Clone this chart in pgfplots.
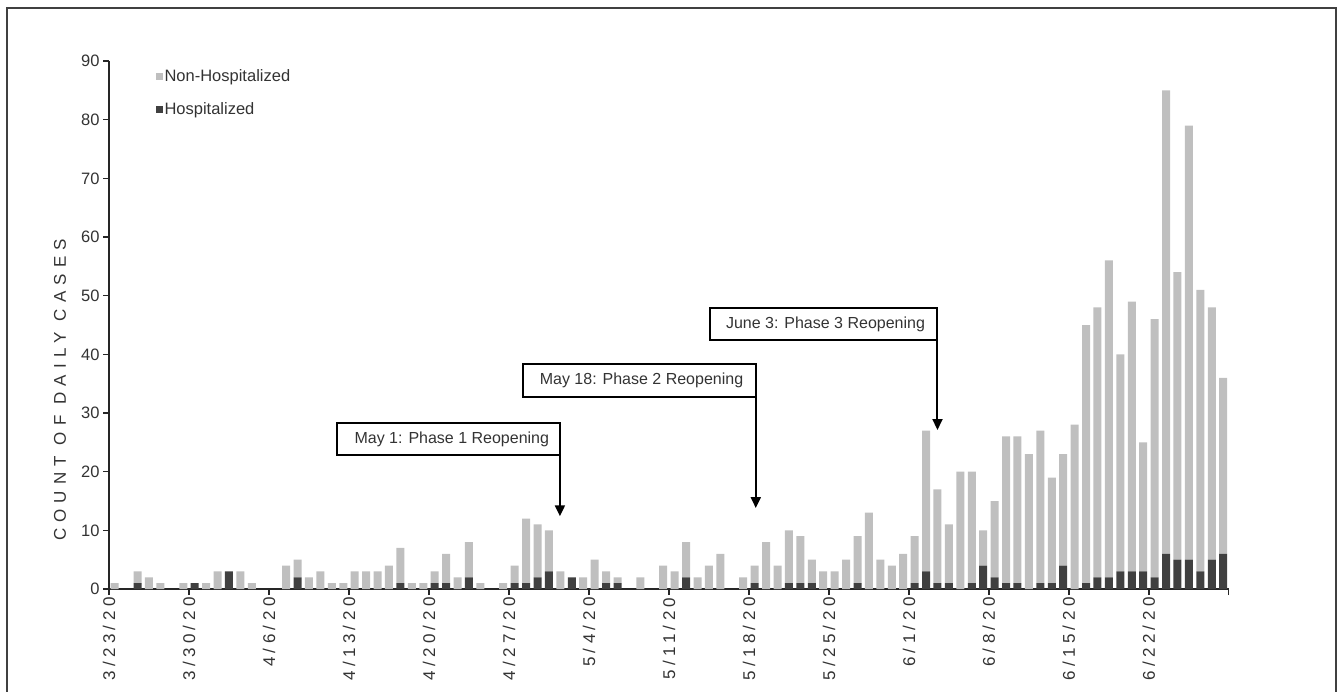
\documentclass[border=0pt]{standalone}
\usepackage{fontspec}
\setmainfont{Liberation Sans}
\newfontfamily\tickfont[LetterSpace=26]{Liberation Sans}
\newfontfamily\ylabfont[LetterSpace=36]{Liberation Sans}
\newfontfamily\boxfont[LetterSpace=0]{Liberation Sans}
\usepackage{pgfplots}
\usepackage{pgfplotstable}
\pgfplotsset{compat=1.18}
\usetikzlibrary{arrows.meta}
\newcommand\fs{\fontsize{16pt}{19pt}\selectfont}
\newcommand\fsl{\fontsize{16.5pt}{19pt}\selectfont}
\newcommand\fsb{\fontsize{17pt}{20pt}\selectfont}
\definecolor{lightbar}{HTML}{BFBFBF}
\definecolor{darkbar}{HTML}{404040}

\pgfplotstableread{
x hosp nonhosp
0 0 1
1 0 0
2 1 2
3 0 2
4 0 1
5 0 0
6 0 1
7 1 0
8 0 1
9 0 3
10 3 0
11 0 3
12 0 1
13 0 0
14 0 0
15 0 4
16 2 3
17 0 2
18 0 3
19 0 1
20 0 1
21 0 3
22 0 3
23 0 3
24 0 4
25 1 6
26 0 1
27 0 1
28 1 2
29 1 5
30 0 2
31 2 6
32 0 1
33 0 0
34 0 1
35 1 3
36 1 11
37 2 9
38 3 7
39 0 3
40 2 0
41 0 2
42 0 5
43 1 2
44 1 1
45 0 0
46 0 2
47 0 0
48 0 4
49 0 3
50 2 6
51 0 2
52 0 4
53 0 6
54 0 0
55 0 2
56 1 3
57 0 8
58 0 4
59 1 9
60 1 8
61 1 4
62 0 3
63 0 3
64 0 5
65 1 8
66 0 13
67 0 5
68 0 4
69 0 6
70 1 8
71 3 24
72 1 16
73 1 10
74 0 20
75 1 19
76 4 6
77 2 13
78 1 25
79 1 25
80 0 23
81 1 26
82 1 18
83 4 19
84 0 28
85 1 44
86 2 46
87 2 54
88 3 37
89 3 46
90 3 22
91 2 44
92 6 79
93 5 49
94 5 74
95 3 48
96 5 43
97 6 30
}\datatable

\begin{document}
\begin{tikzpicture}
\useasboundingbox (0,0) rectangle (1343pt,691pt);
\draw[line width=1.5pt, darkbar] (7pt,683pt) rectangle (1336pt,-10pt);
\begin{axis}[
  at={(109pt,102pt)}, anchor=south west,
  scale only axis, width=1120pt, height=528pt,
  xmin=-0.5, xmax=97.5, ymin=0, ymax=90,
  axis lines*=left,
  axis line style={-, line width=1.4pt, black!85},
  tick style={line width=1.2pt, black!85},
  tick align=outside, major tick length=6pt,
  ytick={0,10,...,90},
  xtick={-0.5,6.5,...,97.5},
  xticklabels={3/23/20,3/30/20,4/6/20,4/13/20,4/20/20,4/27/20,5/4/20,5/11/20,5/18/20,5/25/20,6/1/20,6/8/20,6/15/20,6/22/20,{}},
  xticklabel style={rotate=90, anchor=east, font=\tickfont\fsb, text=black!80, xshift=1pt},
  yticklabel style={font=\fsl, text=black!80},
  /pgf/number format/assume math mode=true,
  ylabel={COUNT OF DAILY CASES},
  ylabel style={font=\ylabfont\fsb, text=black!80, at={(axis description cs:-0.04375,0.377)}, anchor=center},
  ybar stacked, bar width=8pt,
  reverse legend,
  legend cell align=left,
  legend image code/.code={\path[#1,draw=none] (0pt,-3.5pt) rectangle (7pt,3.5pt);},
  legend style={draw=none, fill=none, font=\fsl, text=black!80, at={(axis description cs:0.0414,0.988)}, anchor=north west, row sep=16pt, inner sep=0pt},
  clip=false,
]
\addplot[fill=darkbar, draw=none] table[x=x, y=hosp] {\datatable};
\addlegendentry{Hospitalized}
\addplot[fill=lightbar, draw=none] table[x=x, y=nonhosp] {\datatable};
\addlegendentry{Non-Hospitalized}

\draw[line width=2pt] (axis cs:19.45,22.8) rectangle (axis cs:38.96,28.3);
\node[font=\boxfont\fs, text=black!80] at (axis cs:29.5,25.55) {May 1: Phase 1 Reopening};
\draw[line width=2pt, -{Triangle[width=10pt,length=11pt]}] (axis cs:38.96,28.3) -- (axis cs:38.96,12.4);

\draw[line width=2pt] (axis cs:35.7,32.8) rectangle (axis cs:56.1,38.35);
\node[font=\boxfont\fs, text=black!80] at (axis cs:46.1,35.57) {May 18: Phase 2 Reopening};
\draw[line width=2pt, -{Triangle[width=10pt,length=11pt]}] (axis cs:56.1,38.35) -- (axis cs:56.1,13.8);

\draw[line width=2pt] (axis cs:52.1,42.4) rectangle (axis cs:72.0,47.9);
\node[font=\boxfont\fs, text=black!80] at (axis cs:62.2,45.15) {June 3: Phase 3 Reopening};
\draw[line width=2pt, -{Triangle[width=10pt,length=11pt]}] (axis cs:72.0,47.9) -- (axis cs:72.0,27.1);
\end{axis}
\end{tikzpicture}
\end{document}
